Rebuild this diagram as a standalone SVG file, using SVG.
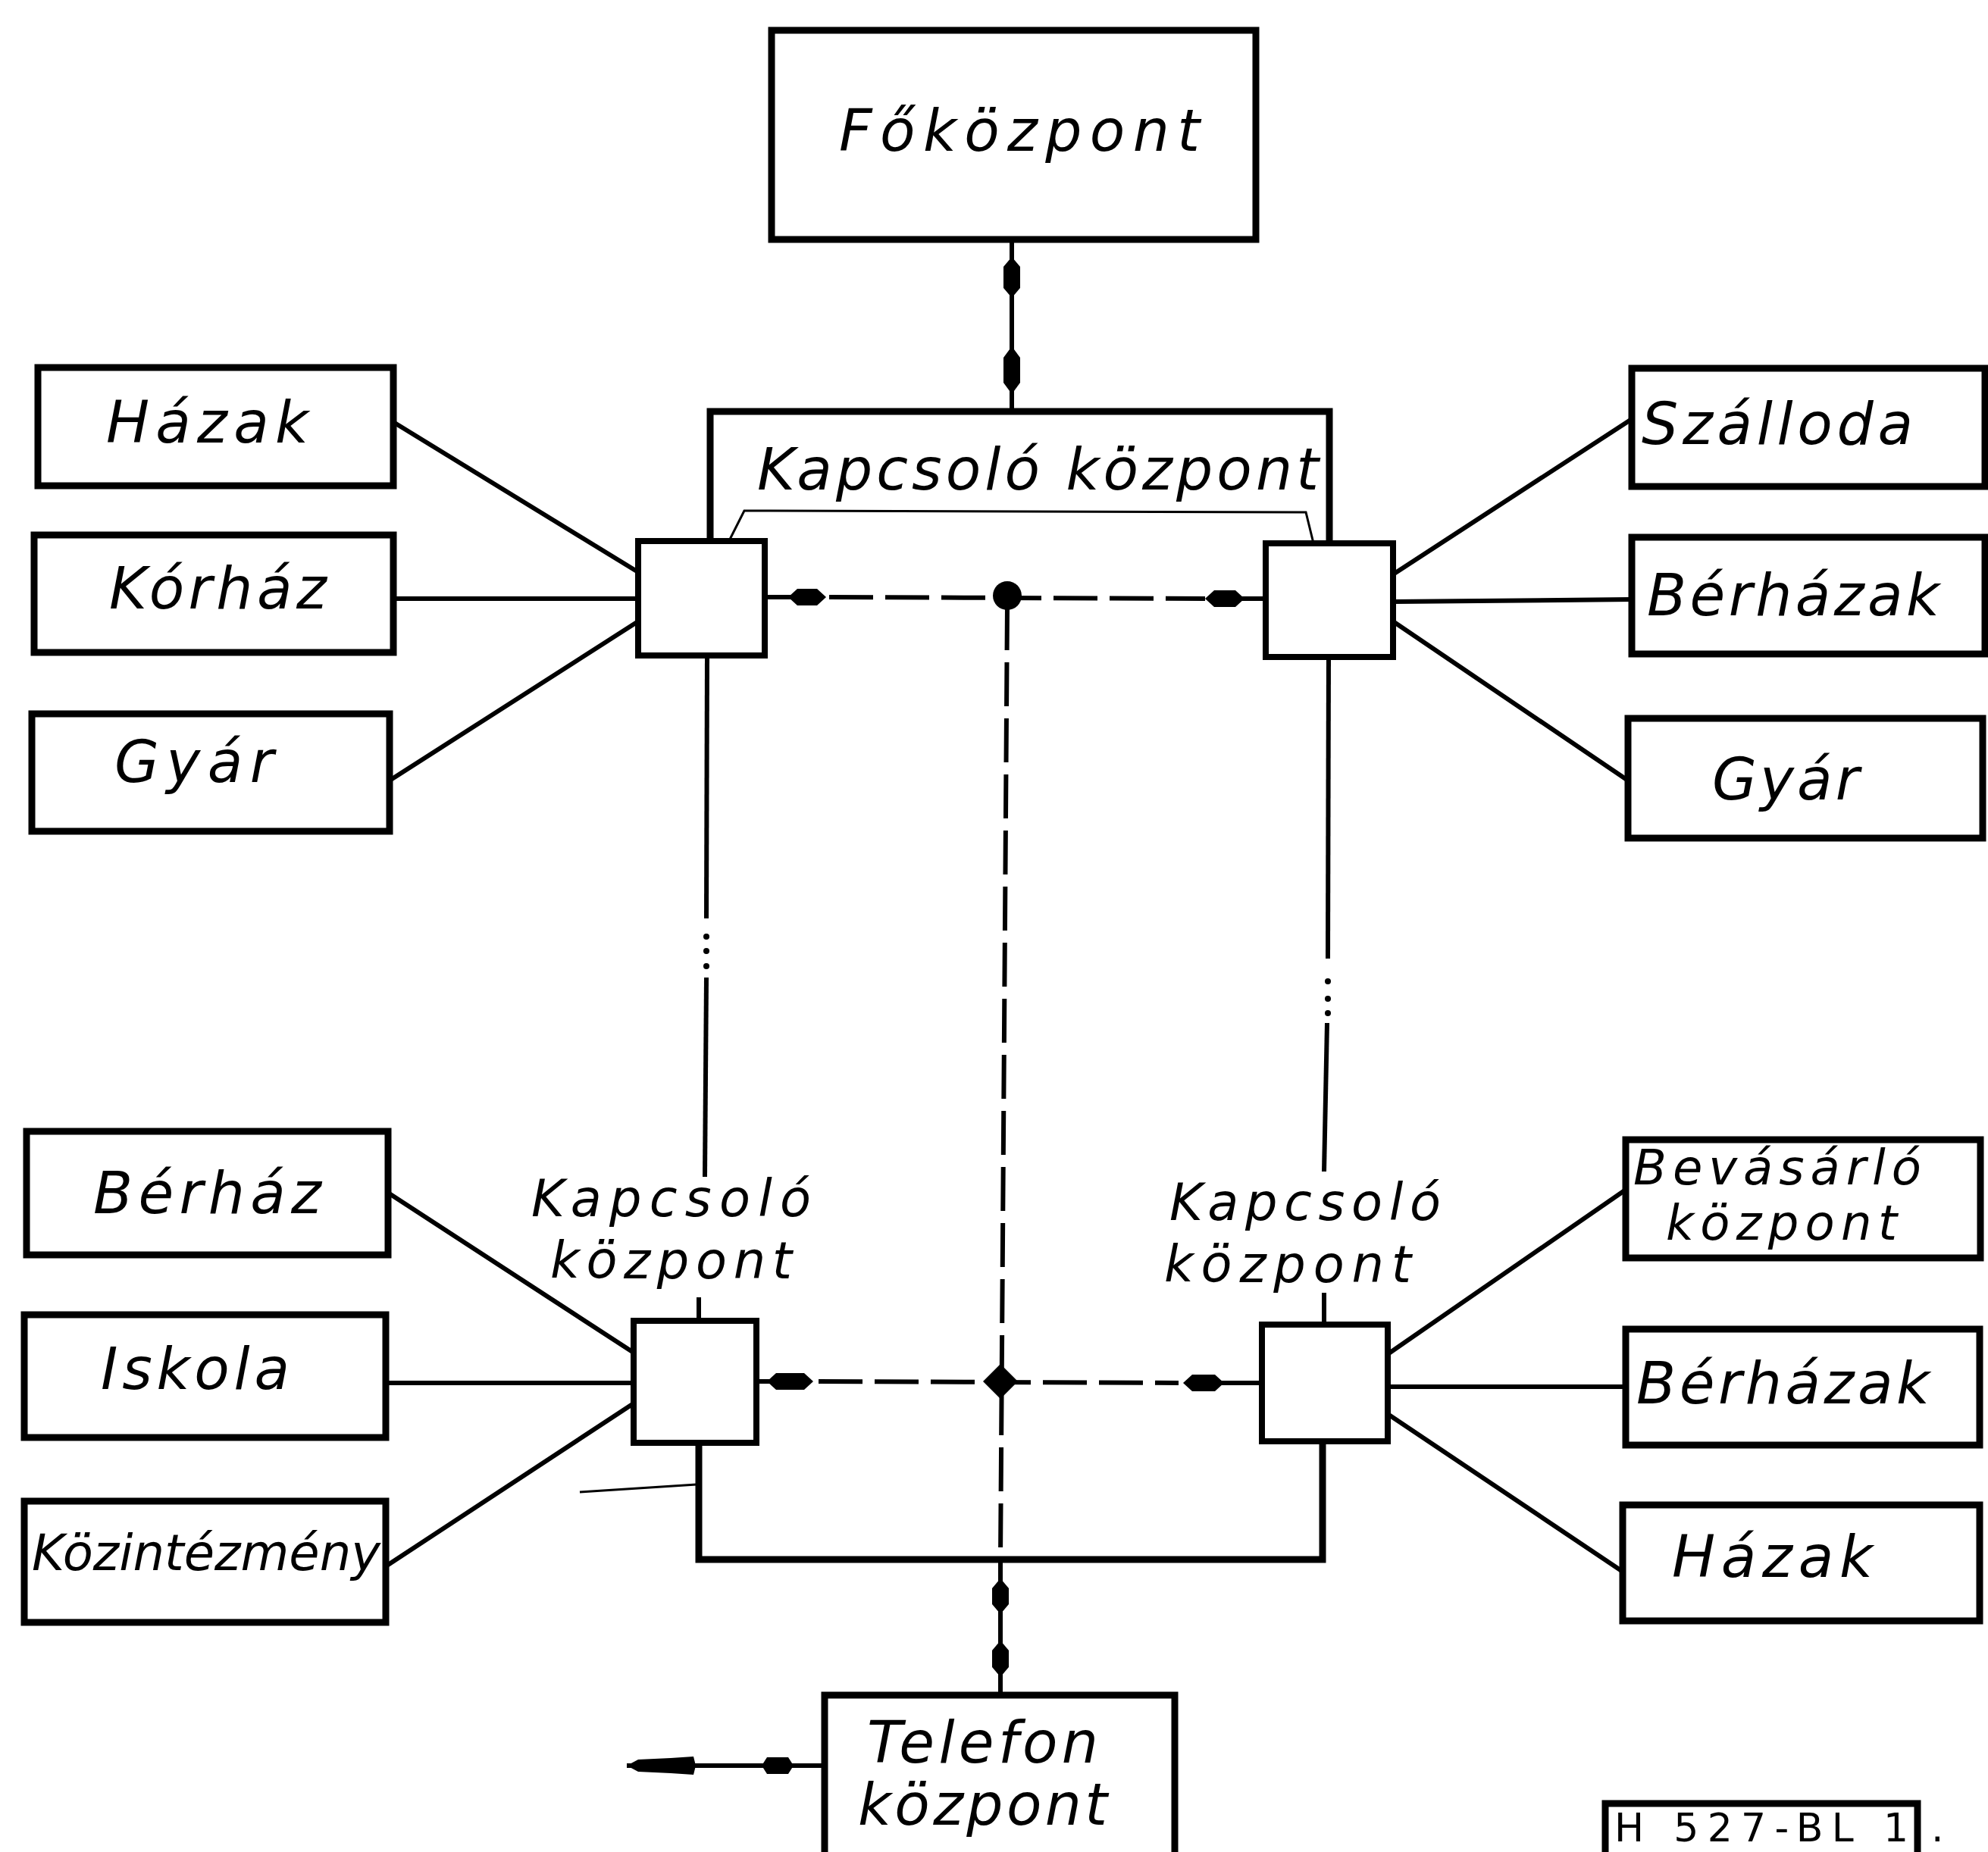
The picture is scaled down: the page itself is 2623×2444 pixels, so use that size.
<svg xmlns="http://www.w3.org/2000/svg" width="2623" height="2444" viewBox="0 0 2623 2444">
<style>
.box{fill:none;stroke:#000;stroke-width:9}
.sbox{fill:#fff;stroke:#000;stroke-width:8}
.ln{fill:none;stroke:#000;stroke-width:6}
.thin{fill:none;stroke:#000;stroke-width:3}
.dash{fill:none;stroke:#000;stroke-width:6;stroke-dasharray:58 16}
.dot{fill:#000}
.t{font-family:"DejaVu Sans","Liberation Sans",sans-serif;font-style:italic;font-size:76px;fill:#000}
.tm{font-size:66px}
.ts{font-size:64px}
.tk{font-size:67px}
.code{font-family:"DejaVu Sans","Liberation Sans",sans-serif;font-size:52px;fill:#000}
</style>
<rect x="0" y="0" width="2623" height="2444" fill="#fff"/>

<g id="connectors">
  <line class="ln" x1="1335" y1="316" x2="1335" y2="543"/>
  <polygon class="dot" points="1335,339 1346,352 1346,380 1335,393 1324,380 1324,352"/>
  <polygon class="dot" points="1335,457 1346,472 1346,505 1335,520 1324,505 1324,472"/>
  <polyline class="box" points="937,716 937,543 1754,543 1754,718"/>
  <polyline class="thin" points="932,773 982,674 1723,676 1748,778"/>
  <line class="ln" x1="519" y1="557" x2="842" y2="755"/>
  <line class="ln" x1="519" y1="790" x2="842" y2="790"/>
  <line class="ln" x1="514" y1="1030" x2="842" y2="820"/>
  <line class="ln" x1="1838" y1="758" x2="2153" y2="553"/>
  <line class="ln" x1="1838" y1="794" x2="2153" y2="791"/>
  <line class="ln" x1="1838" y1="820" x2="2148" y2="1030"/>
  <line class="ln" x1="512" y1="1574" x2="836" y2="1785"/>
  <line class="ln" x1="509" y1="1825" x2="836" y2="1825"/>
  <line class="ln" x1="509" y1="2067" x2="836" y2="1852"/>
  <line class="ln" x1="1831" y1="1787" x2="2145" y2="1570"/>
  <line class="ln" x1="1831" y1="1830" x2="2145" y2="1830"/>
  <line class="ln" x1="1831" y1="1866" x2="2141" y2="2074"/>
  <line class="dash" x1="1094" y1="788" x2="1590" y2="790"/>
  <line class="ln" x1="1009" y1="788" x2="1050" y2="788"/>
  <polygon class="dot" points="1040,788 1052,777 1078,777 1090,788 1078,799 1052,799"/>
  <line class="ln" x1="1616" y1="790" x2="1670" y2="790"/>
  <polygon class="dot" points="1590,790 1602,779 1630,779 1642,790 1630,801 1602,801"/>
  <circle class="dot" cx="1329" cy="786" r="19"/>
  <line class="dash" x1="1329" y1="800" x2="1320" y2="2058"/>
  <line class="dash" x1="1080" y1="1823" x2="1555" y2="1825"/>
  <line class="ln" x1="998" y1="1823" x2="1042" y2="1823"/>
  <polygon class="dot" points="1012,1823 1024,1812 1061,1812 1073,1823 1061,1834 1024,1834"/>
  <line class="ln" x1="1588" y1="1825" x2="1665" y2="1825"/>
  <polygon class="dot" points="1561,1825 1573,1814 1603,1814 1615,1825 1603,1836 1573,1836"/>
  <polygon class="dot" points="1320,1800 1343,1823 1320,1846 1297,1823"/>
  <line class="ln" x1="933" y1="865" x2="932" y2="1212"/>
  <circle class="dot" cx="932" cy="1236" r="4"/>
  <circle class="dot" cx="932" cy="1255" r="4"/>
  <circle class="dot" cx="932" cy="1275" r="4"/>
  <line class="ln" x1="932" y1="1290" x2="930" y2="1553"/>
  <line class="ln" x1="1753" y1="867" x2="1752" y2="1265"/>
  <circle class="dot" cx="1752" cy="1295" r="4"/>
  <circle class="dot" cx="1752" cy="1318" r="4"/>
  <circle class="dot" cx="1752" cy="1337" r="4"/>
  <line class="ln" x1="1751" y1="1350" x2="1747" y2="1546"/>
  <line class="ln" x1="922" y1="1712" x2="922" y2="1743"/>
  <line class="ln" x1="1747" y1="1706" x2="1747" y2="1748"/>
  <polyline class="box" points="922,1904 922,2058 1745,2058 1745,1902"/>
  <line class="thin" x1="765" y1="1969" x2="919" y2="1959"/>
  <line class="ln" x1="1320" y1="2058" x2="1320" y2="2237"/>
  <polygon class="dot" points="1320,2083 1331,2096 1331,2117 1320,2130 1309,2117 1309,2096"/>
  <polygon class="dot" points="1320,2165 1331,2178 1331,2200 1320,2213 1309,2200 1309,2178"/>
  <line class="ln" x1="827" y1="2330" x2="1088" y2="2330"/>
  <polygon class="dot" points="827,2330 842,2322 885,2320 915,2318 918,2330 915,2342 885,2340 842,2338"/>
  <polygon class="dot" points="1005,2330 1012,2319 1040,2319 1047,2330 1040,2341 1012,2341"/>
</g>

<g id="fokozpont">
  <rect class="box" x="1018" y="40" width="639" height="276"/>
  <text class="t" x="1107" y="199" font-size="86" textLength="476" lengthAdjust="spacing">Főközpont</text>
</g>
<g id="kapcsolo-top-label">
  <text class="t" x="999" y="646" textLength="741" lengthAdjust="spacing">Kapcsoló központ</text>
</g>
<g id="sw-top-left"><rect class="sbox" x="842" y="714" width="167" height="151"/></g>
<g id="sw-top-right"><rect class="sbox" x="1670" y="717" width="168" height="150"/></g>
<g id="sw-bottom-left"><rect class="sbox" x="836" y="1743" width="162" height="161"/></g>
<g id="sw-bottom-right"><rect class="sbox" x="1665" y="1748" width="166" height="154"/></g>

<g id="kapcsolo-bl-label">
  <text class="t tk" x="701" y="1605" textLength="369" lengthAdjust="spacing">Kapcsoló</text>
  <text class="t tk" x="726" y="1687" textLength="319" lengthAdjust="spacing">központ</text>
</g>
<g id="kapcsolo-br-label">
  <text class="t tk" x="1543" y="1610" textLength="358" lengthAdjust="spacing">Kapcsoló</text>
  <text class="t tk" x="1536" y="1692" textLength="326" lengthAdjust="spacing">központ</text>
</g>

<g id="hazak-l"><rect class="box" x="50" y="485" width="469" height="156"/><text class="t" x="140" y="584" textLength="267" lengthAdjust="spacing">Házak</text></g>
<g id="korhaz"><rect class="box" x="45" y="706" width="474" height="155"/><text class="t" x="144" y="803" textLength="287" lengthAdjust="spacing">Kórház</text></g>
<g id="gyar-l"><rect class="box" x="42" y="942" width="472" height="155"/><text class="t" x="151" y="1032" textLength="210" lengthAdjust="spacing">Gyár</text></g>
<g id="berhaz"><rect class="box" x="35" y="1493" width="477" height="163"/><text class="t" x="123" y="1601" textLength="301" lengthAdjust="spacing">Bérház</text></g>
<g id="iskola"><rect class="box" x="32" y="1735" width="477" height="162"/><text class="t" x="133" y="1833" textLength="249" lengthAdjust="spacing">Iskola</text></g>
<g id="kozintezmeny"><rect class="box" x="32" y="1981" width="477" height="160"/><text class="t tm" x="42" y="2072" textLength="460" lengthAdjust="spacingAndGlyphs">Közintézmény</text></g>

<g id="szalloda"><rect class="box" x="2153" y="486" width="466" height="156"/><text class="t" x="2166" y="586" textLength="358" lengthAdjust="spacing">Szálloda</text></g>
<g id="berhazak-1"><rect class="box" x="2153" y="709" width="466" height="154"/><text class="t" x="2173" y="812" textLength="386" lengthAdjust="spacing">Bérházak</text></g>
<g id="gyar-r"><rect class="box" x="2148" y="948" width="468" height="158"/><text class="t" x="2259" y="1055" textLength="194" lengthAdjust="spacing">Gyár</text></g>
<g id="bevasarlo"><rect class="box" x="2145" y="1504" width="468" height="156"/><text class="t ts" x="2155" y="1563" textLength="380" lengthAdjust="spacing">Bevásárló</text><text class="t ts" x="2198" y="1636" textLength="305" lengthAdjust="spacing">központ</text></g>
<g id="berhazak-2"><rect class="box" x="2145" y="1754" width="467" height="153"/><text class="t" x="2159" y="1852" textLength="387" lengthAdjust="spacing">Bérházak</text></g>
<g id="hazak-r"><rect class="box" x="2141" y="1986" width="471" height="153"/><text class="t" x="2206" y="2081" textLength="265" lengthAdjust="spacing">Házak</text></g>

<g id="telefon">
  <rect class="box" x="1088" y="2237" width="462" height="240"/>
  <text class="t" x="1144" y="2326" font-size="68" textLength="305" lengthAdjust="spacing">Telefon</text>
  <text class="t" x="1132" y="2408" font-size="68" textLength="329" lengthAdjust="spacing">központ</text>
</g>

<g id="code">
  <polyline class="box" points="2118,2460 2118,2380 2530,2380 2530,2460"/>
  <text class="code" x="2130" y="2430" textLength="388" lengthAdjust="spacing">H 527-BL 1</text>
  <text class="code" x="2548" y="2430">.</text>
</g>
</svg>
